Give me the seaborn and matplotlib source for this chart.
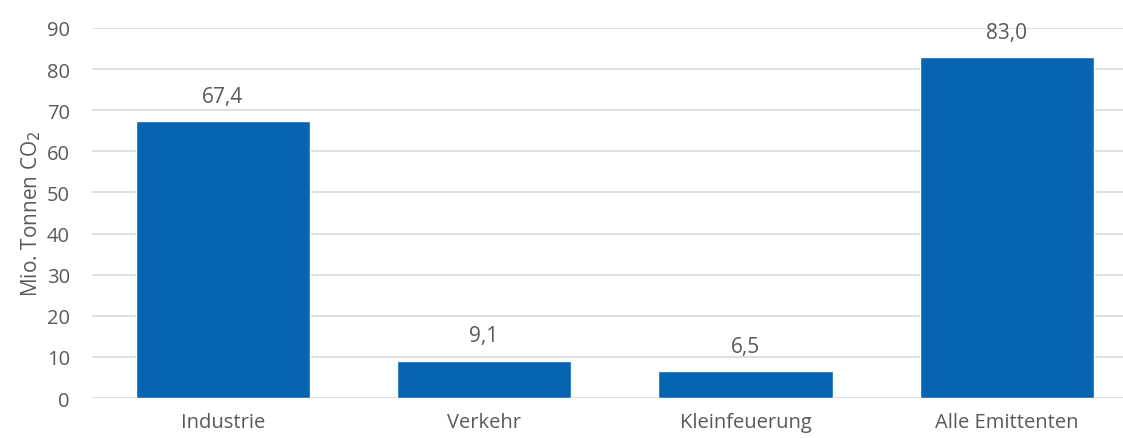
import matplotlib
matplotlib.use("Agg")
import matplotlib.pyplot as plt
import seaborn as sns
import pandas as pd

# Daten
kategorien = ["Industrie", "Verkehr", "Kleinfeuerung", "Alle Emittenten"]
werte = [67.4, 9.1, 6.5, 83.0]
beschriftungen = ["67,4", "9,1", "6,5", "83,0"]
y_ticks = [0, 10, 20, 30, 40, 50, 60, 70, 80, 90]

df = pd.DataFrame({"kategorie": kategorien, "wert": werte})

sns.set_style("white")
plt.rcParams["font.family"] = ["Open Sans", "DejaVu Sans"]

grau = "#595959"
fs = 15
fig = plt.figure(figsize=(11.23, 4.39), dpi=100)
ax = fig.add_axes([0.082, 0.091, 0.918, 0.843])

sns.barplot(data=df, x="kategorie", y="wert", color="#0565b2", width=0.667,
            saturation=1, ax=ax, zorder=3)

for i, (v, t) in enumerate(zip(werte, beschriftungen)):
    ax.text(i, v + 6.0, t, ha="center", va="center", fontsize=fs, color=grau)

ax.set_ylim(0, 90)
ax.set_xlim(-0.5, 3.445)
ax.set_yticks(y_ticks)
ax.yaxis.grid(True, color="#d9d9d9", linewidth=1.2, zorder=0)
ax.tick_params(axis="y", length=0, pad=16, labelsize=14.5, labelcolor=grau)
ax.tick_params(axis="x", length=0, pad=10, labelsize=14.5, labelcolor=grau)
for s in ax.spines.values():
    s.set_visible(False)
ax.set_xlabel("")
ax.set_ylabel("Mio. Tonnen CO$_2$", fontsize=fs, color=grau, labelpad=3)
ax.set_clip_on(False)

fig.savefig("out.png", dpi=100)
